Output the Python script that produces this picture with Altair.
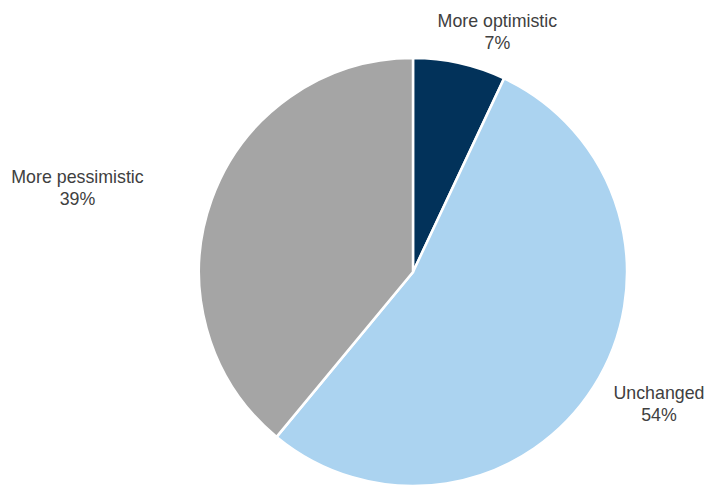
import altair as alt
import pandas as pd

categories = ["More optimistic", "Unchanged", "More pessimistic"]
values = [7, 54, 39]
colors = ["#02325A", "#ABD3F0", "#A5A5A5"]

df = pd.DataFrame({
    "category": categories,
    "value": values,
    "order": list(range(len(categories))),
    "pct": [f"{v}%" for v in values],
})

cx, cy, r = 413, 272, 214

base = alt.Chart(df).encode(
    theta=alt.Theta("value:Q", stack=True),
    order=alt.Order("order:Q"),
    x=alt.value(cx),
    y=alt.value(cy),
)

pie = base.mark_arc(outerRadius=r, stroke="white", strokeWidth=2.5).encode(
    color=alt.Color("category:N", scale=alt.Scale(domain=categories, range=colors), legend=None)
)

label_style = [
    ("More optimistic", 240, 32, -16),
    ("Unchanged", 270, 18, -23),
    ("More pessimistic", 330, -25, 18),
]

layers = [pie]
for cat, rad, dx, dy in label_style:
    layers.append(
        base.transform_calculate(lab="[datum.category, datum.pct]")
        .mark_text(radius=rad, dx=dx, dy=dy, font="Liberation Sans", fontSize=17.8,
                   color="#404040", align="center", baseline="middle", lineHeight=22)
        .encode(text="lab:N", opacity=alt.condition(alt.datum.category == cat, alt.value(1), alt.value(0)))
    )

chart = alt.layer(*layers).properties(
    width=704, height=485, padding=0, autosize=alt.AutoSizeParams(type="none")
).configure_view(stroke=None)

chart.save("out.html", embed_options={"renderer": "svg", "actions": False})
